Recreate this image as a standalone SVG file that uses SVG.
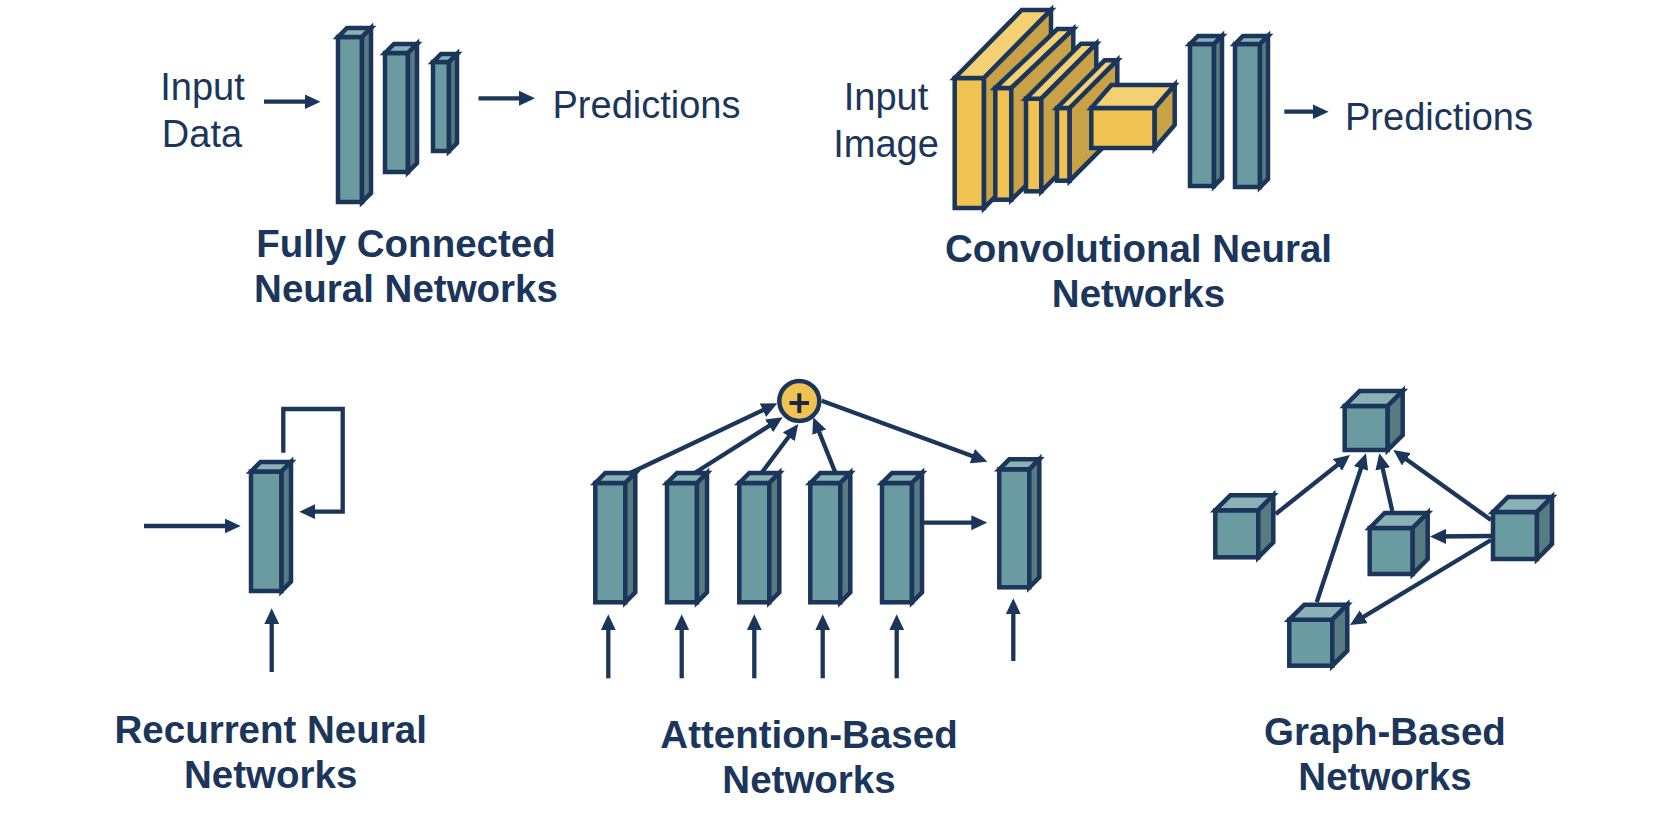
<svg xmlns="http://www.w3.org/2000/svg" width="1658" height="826" viewBox="0 0 1658 826">
<defs>
<style>
.f{fill:#6a9ba1;stroke:#1b365a;stroke-width:4.5;stroke-linejoin:miter}
.t{fill:#8ab1b6;stroke:#1b365a;stroke-width:4.5;stroke-linejoin:miter}
.s{fill:#567c81;stroke:#1b365a;stroke-width:4.5;stroke-linejoin:miter}
.yf{fill:#f0c251;stroke:#1b365a;stroke-width:4.5;stroke-linejoin:miter}
.yt{fill:#f3d172;stroke:#1b365a;stroke-width:4.5;stroke-linejoin:miter}
.ys{fill:#c9a247;stroke:#1b365a;stroke-width:4.5;stroke-linejoin:miter}
.c{fill:none;stroke:#1b365a;stroke-width:4.3;stroke-linejoin:miter}
.a{marker-end:url(#ah)}
.lbl{font-family:"Liberation Sans",Arial,sans-serif;font-size:38px;fill:#1b365a}
.ttl{font-family:"Liberation Sans",Arial,sans-serif;font-size:38.5px;font-weight:bold;fill:#1b365a;text-anchor:middle}
</style>
<marker id="ah" viewBox="0 0 16 15" refX="10" refY="7.5" markerWidth="16" markerHeight="15" markerUnits="userSpaceOnUse" orient="auto">
<path d="M0,0 L16,7.5 L0,15 Z" fill="#1b365a"/>
</marker>
</defs>
<rect width="1658" height="826" fill="#ffffff"/>

<g id="connectors">
<line class="c a" x1="264" y1="101.7" x2="314.5" y2="101.7"/>
<line class="c a" x1="478.5" y1="98.3" x2="529" y2="98.3"/>
<line class="c a" x1="1284.3" y1="111.7" x2="1322.6" y2="111.7"/>
<line class="c a" x1="144" y1="526" x2="234.7" y2="526"/>
<line class="c a" x1="271.7" y1="672" x2="271.7" y2="614.3"/>
<path class="c a" d="M283.3,452.7 V409 H342.7 V511.7 H305.3"/>
<line class="c a" x1="608.3" y1="678.3" x2="608.3" y2="620.3"/>
<line class="c a" x1="681.7" y1="678.3" x2="681.7" y2="620.3"/>
<line class="c a" x1="754.3" y1="678.3" x2="754.3" y2="620.3"/>
<line class="c a" x1="822.7" y1="678.3" x2="822.7" y2="620.3"/>
<line class="c a" x1="896.7" y1="678.3" x2="896.7" y2="620.3"/>
<line class="c a" x1="1013.3" y1="661" x2="1013.3" y2="604.3"/>
<line class="c a" x1="630.7" y1="472.7" x2="771.9" y2="405.9"/>
<line class="c a" x1="695" y1="472.7" x2="777.6" y2="420.5"/>
<line class="c a" x1="761.7" y1="472.7" x2="794.7" y2="428.8"/>
<line class="c a" x1="835" y1="471.7" x2="815.5" y2="422.9"/>
<line class="c a" x1="821.7" y1="400.7" x2="981.7" y2="459.6"/>
<line class="c a" x1="924" y1="522.7" x2="981.3" y2="522.7"/>
<line class="c a" x1="1275.7" y1="514" x2="1345.3" y2="458.7"/>
<line class="c a" x1="1316.7" y1="602.3" x2="1364.1" y2="459"/>
<line class="c a" x1="1392.3" y1="511" x2="1380.6" y2="459.2"/>
<line class="c a" x1="1491" y1="520" x2="1398.2" y2="453.5"/>
<line class="c a" x1="1491" y1="536" x2="1436" y2="536.5"/>
<line class="c a" x1="1491" y1="540" x2="1355.1" y2="621.9"/>
</g>

<g id="fc-network">
<text class="lbl" x="202.5" y="100" text-anchor="middle">Input</text>
<text class="lbl" x="202" y="146.7" text-anchor="middle">Data</text>
<g id="fc-layer1">
<rect class="f" x="338" y="37" width="24" height="165"/>
<polygon class="t" points="338,37 347,28 371,28 362,37"/>
<polygon class="s" points="362,37 371,28 371,193 362,202"/>
</g>
<g id="fc-layer2">
<rect class="f" x="385" y="53" width="23" height="119"/>
<polygon class="t" points="385,53 394,44 417,44 408,53"/>
<polygon class="s" points="408,53 417,44 417,163 408,172"/>
</g>
<g id="fc-layer3">
<rect class="f" x="433" y="62" width="16" height="89"/>
<polygon class="t" points="433,62 441,54 457,54 449,62"/>
<polygon class="s" points="449,62 457,54 457,143 449,151"/>
</g>
<text class="lbl" x="552.5" y="118.3">Predictions</text>
<text class="ttl" x="406" y="256.7">Fully Connected</text>
<text class="ttl" x="406" y="301.7">Neural Networks</text>
</g>

<g id="cnn-network">
<text class="lbl" x="886" y="110" text-anchor="middle">Input</text>
<text class="lbl" x="886" y="157" text-anchor="middle">Image</text>
<g id="cnn-conv1">
<rect class="yf" x="954.7" y="78" width="29.3" height="130"/>
<polygon class="yt" points="954.7,78 1021.7,10 1051,10 984,78"/>
<polygon class="ys" points="984,78 1051,10 1051,140 984,208"/>
</g>
<g id="cnn-conv2">
<rect class="yf" x="995.3" y="88" width="16" height="111.7"/>
<polygon class="yt" points="995.3,88 1057.3,29 1073.3,29 1011.3,88"/>
<polygon class="ys" points="1011.3,88 1073.3,29 1073.3,140.7 1011.3,199.7"/>
</g>
<g id="cnn-conv3">
<rect class="yf" x="1026" y="98.7" width="15.3" height="92.6"/>
<polygon class="yt" points="1026,98.7 1081,43.7 1096.3,43.7 1041.3,98.7"/>
<polygon class="ys" points="1041.3,98.7 1096.3,43.7 1096.3,136.3 1041.3,191.3"/>
</g>
<g id="cnn-conv4">
<rect class="yf" x="1057" y="108" width="12.7" height="72.7"/>
<polygon class="yt" points="1057,108 1104.6,60.3 1117.3,60.3 1069.7,108"/>
<polygon class="ys" points="1069.7,108 1117.3,60.3 1117.3,133 1069.7,180.7"/>
</g>
<g id="cnn-pool">
<rect class="yf" x="1091.3" y="108" width="63.4" height="40"/>
<polygon class="yt" points="1091.3,108 1111.3,85 1174.7,85 1154.7,108"/>
<polygon class="ys" points="1154.7,108 1174.7,85 1174.7,125 1154.7,148"/>
</g>
<g id="cnn-fc1">
<rect class="f" x="1190" y="44" width="24" height="142"/>
<polygon class="t" points="1190,44 1198,36 1222,36 1214,44"/>
<polygon class="s" points="1214,44 1222,36 1222,178 1214,186"/>
</g>
<g id="cnn-fc2">
<rect class="f" x="1235" y="44" width="25" height="143"/>
<polygon class="t" points="1235,44 1243,36 1268,36 1260,44"/>
<polygon class="s" points="1260,44 1268,36 1268,179 1260,187"/>
</g>
<text class="lbl" x="1345" y="130">Predictions</text>
<text class="ttl" x="1138.5" y="261.7">Convolutional Neural</text>
<text class="ttl" x="1138.5" y="306.7">Networks</text>
</g>

<g id="rnn-network">
<g id="rnn-cell">
<rect class="f" x="251" y="471.5" width="30.5" height="119.5"/>
<polygon class="t" points="251,471.5 260.5,462 291,462 281.5,471.5"/>
<polygon class="s" points="281.5,471.5 291,462 291,581.5 281.5,591"/>
</g>
<text class="ttl" x="270.7" y="743.3">Recurrent Neural</text>
<text class="ttl" x="270.7" y="788.3">Networks</text>
</g>

<g id="attention-network">
<g id="att-in1">
<rect class="f" x="595.3" y="483" width="30" height="119.3"/>
<polygon class="t" points="595.3,483 605.3,473 635.3,473 625.3,483"/>
<polygon class="s" points="625.3,483 635.3,473 635.3,592.3 625.3,602.3"/>
</g>
<g id="att-in2">
<rect class="f" x="667" y="483" width="30" height="119.3"/>
<polygon class="t" points="667,483 677,473 707,473 697,483"/>
<polygon class="s" points="697,483 707,473 707,592.3 697,602.3"/>
</g>
<g id="att-in3">
<rect class="f" x="739.3" y="483" width="30" height="119.3"/>
<polygon class="t" points="739.3,483 749.3,473 779.3,473 769.3,483"/>
<polygon class="s" points="769.3,483 779.3,473 779.3,592.3 769.3,602.3"/>
</g>
<g id="att-in4">
<rect class="f" x="810.3" y="483" width="30" height="119.3"/>
<polygon class="t" points="810.3,483 820.3,473 850.3,473 840.3,483"/>
<polygon class="s" points="840.3,483 850.3,473 850.3,592.3 840.3,602.3"/>
</g>
<g id="att-in5">
<rect class="f" x="882" y="483" width="30" height="119.3"/>
<polygon class="t" points="882,483 892,473 922,473 912,483"/>
<polygon class="s" points="912,483 922,473 922,592.3 912,602.3"/>
</g>
<g id="att-out">
<rect class="f" x="999.3" y="469.3" width="30" height="118"/>
<polygon class="t" points="999.3,469.3 1009.3,459.3 1039.3,459.3 1029.3,469.3"/>
<polygon class="s" points="1029.3,469.3 1039.3,459.3 1039.3,577.3 1029.3,587.3"/>
</g>
<g id="att-sum">
<circle cx="799.3" cy="401" r="20" fill="#f0c251" stroke="#1b365a" stroke-width="4.5"/>
<path d="M789.5,403 H809 M799.3,393.3 V413" stroke="#1a2a3c" stroke-width="4" fill="none"/>
</g>
<text class="ttl" x="809" y="748.3">Attention-Based</text>
<text class="ttl" x="809" y="793.3">Networks</text>
</g>

<g id="graph-network">
<g id="g-top">
<rect class="f" x="1344.7" y="406" width="43" height="44"/>
<polygon class="t" points="1344.7,406 1359.7,391 1402.7,391 1387.7,406"/>
<polygon class="s" points="1387.7,406 1402.7,391 1402.7,435 1387.7,450"/>
</g>
<g id="g-left">
<rect class="f" x="1215.3" y="510.3" width="43" height="47"/>
<polygon class="t" points="1215.3,510.3 1230.3,495.3 1273.3,495.3 1258.3,510.3"/>
<polygon class="s" points="1258.3,510.3 1273.3,495.3 1273.3,542.3 1258.3,557.3"/>
</g>
<g id="g-middle">
<rect class="f" x="1369.7" y="528" width="43" height="46"/>
<polygon class="t" points="1369.7,528 1384.7,513 1427.7,513 1412.7,528"/>
<polygon class="s" points="1412.7,528 1427.7,513 1427.7,559 1412.7,574"/>
</g>
<g id="g-bottom">
<rect class="f" x="1289.3" y="619.7" width="43" height="46"/>
<polygon class="t" points="1289.3,619.7 1304.3,604.7 1347.3,604.7 1332.3,619.7"/>
<polygon class="s" points="1332.3,619.7 1347.3,604.7 1347.3,650.7 1332.3,665.7"/>
</g>
<g id="g-right">
<rect class="f" x="1493" y="512" width="44" height="47"/>
<polygon class="t" points="1493,512 1508,497 1552,497 1537,512"/>
<polygon class="s" points="1537,512 1552,497 1552,544 1537,559"/>
</g>
<text class="ttl" x="1385" y="745">Graph-Based</text>
<text class="ttl" x="1385" y="790">Networks</text>
</g>
</svg>
